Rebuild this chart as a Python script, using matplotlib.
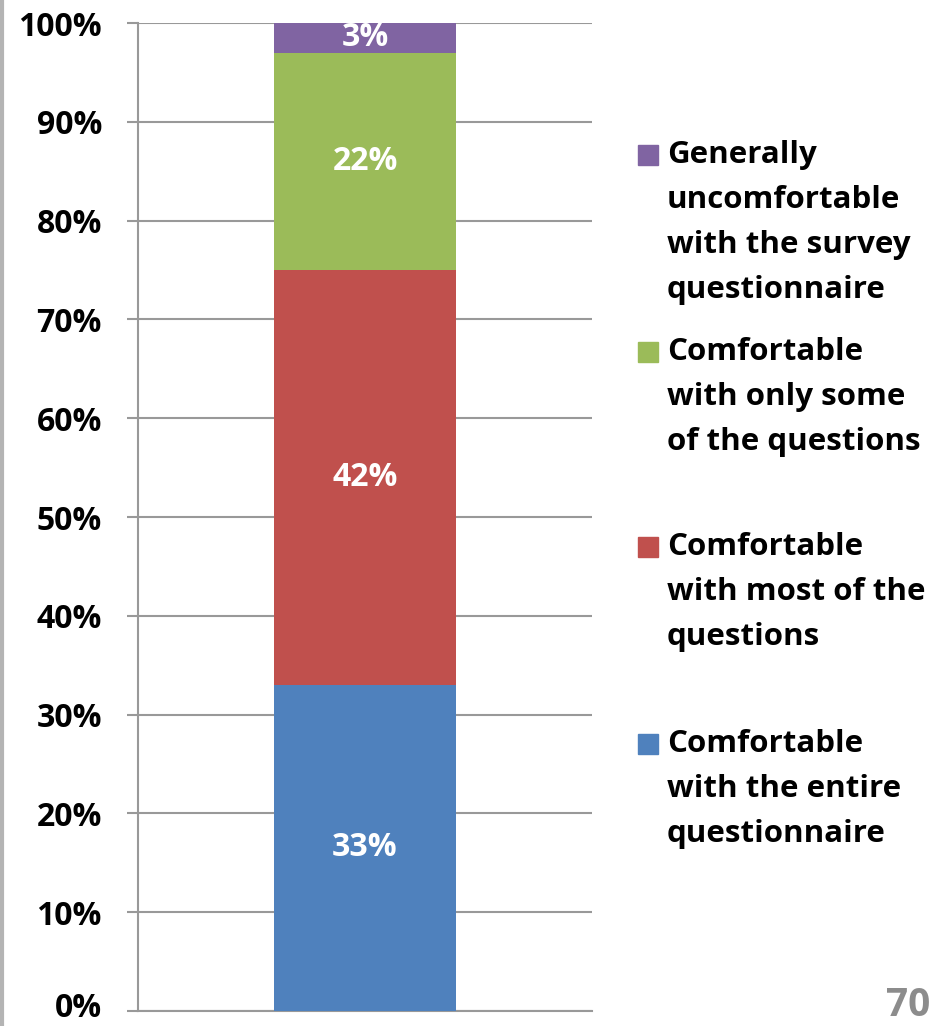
import matplotlib
matplotlib.use('Agg')
import matplotlib.pyplot as plt
import matplotlib.transforms as mtransforms
from matplotlib.patches import Rectangle
from matplotlib.lines import Line2D
import numpy as np

plt.rcParams['font.family'] = ['Open Sans', 'DejaVu Sans']
plt.rcParams['font.weight'] = 'bold'

# data (bottom to top)
categories = ['Comfortable\nwith the entire\nquestionnaire',
              'Comfortable\nwith most of the\nquestions',
              'Comfortable\nwith only some\nof the questions',
              'Generally\nuncomfortable\nwith the survey\nquestionnaire']
values = [33, 42, 22, 3]
colors = ['#4F81BD', '#C0504D', '#9BBB59', '#8064A2']
value_labels = ['33%', '42%', '22%', '3%']
yticks = np.arange(0, 101, 10)
ytick_labels = ['%d%%' % v for v in yticks]

W, H = 933, 1026
fig = plt.figure(figsize=(W / 100, H / 100), dpi=100)
ax = fig.add_axes([138 / W, 1 - 1011 / H, (592 - 138) / W, (1011 - 23) / H])

grid_c = '#999999'
bottom = 0
for v, c, lab in zip(values, colors, value_labels):
    ax.bar(0, v, bottom=bottom, width=0.4, color=c, zorder=3)
    ax.text(0, bottom + v / 2, lab, ha='center', va='center', color='white',
            fontsize=23, fontweight='bold', zorder=4)
    bottom += v

ax.set_xlim(-0.5, 0.5)
ax.set_ylim(0, 100)
ax.set_yticks(yticks)
ax.set_yticklabels(ytick_labels, fontsize=23, fontweight='bold')
ax.set_xticks([])
ax.yaxis.grid(True, color=grid_c, linewidth=1.5, zorder=0)
for s in ['top', 'right']:
    ax.spines[s].set_visible(False)
for s in ['left', 'bottom']:
    ax.spines[s].set_color(grid_c)
    ax.spines[s].set_linewidth(1.5)
ax.tick_params(axis='y', length=8, width=1.5, color=grid_c, pad=18)

# keep the 0% label inside the canvas
lbl0 = ax.get_yticklabels()[0]
lbl0.set_transform(lbl0.get_transform() +
                   mtransforms.ScaledTranslation(0, 5 / 72, fig.dpi_scale_trans))

# legend drawn by hand (Excel-style spacing)
legend_tops = [155, 352, 547, 744]
order = [3, 2, 1, 0]
line_h = 45
for top, i in zip(legend_tops, order):
    fig.add_artist(Rectangle((638 / W, 1 - (top + 10) / H), 20 / W, 20 / H,
                             transform=fig.transFigure, color=colors[i]))
    for k, line in enumerate(categories[i].split('\n')):
        fig.text(667 / W, 1 - (top + k * line_h) / H, line, ha='left', va='center',
                 fontsize=22.5, fontweight='bold', color='black')

# slide page number and left edge
fig.text(930 / W, 1 - 1006 / H, '70', ha='right', va='center', fontsize=28,
         fontweight='bold', color='#8C8C8C')
fig.add_artist(Line2D([1.5 / W, 1.5 / W], [0, 1], transform=fig.transFigure,
                      color='#B4B4B4', linewidth=3))

fig.savefig('out.png', dpi=100)
